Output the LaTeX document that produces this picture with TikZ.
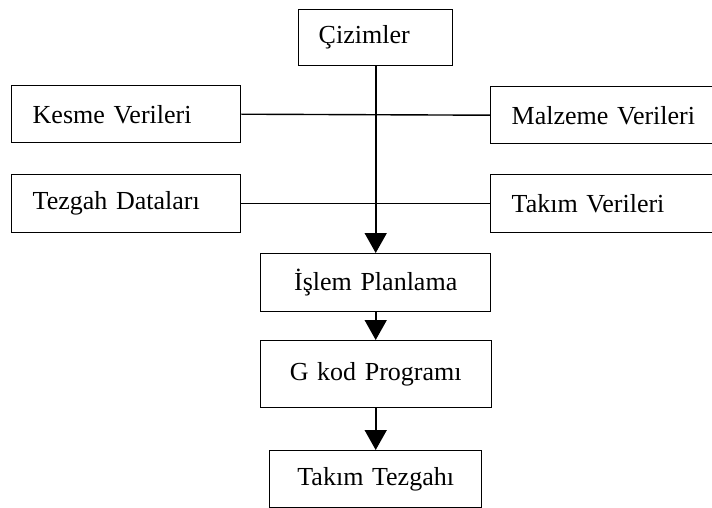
\documentclass[tikz,border=0pt]{standalone}
\usepackage{fontspec}
\setmainfont{Liberation Serif}
\usetikzlibrary{arrows.meta}
\begin{document}
\begin{tikzpicture}[x=1pt,y=-1pt,
  every node/.style={font=\fontsize{26}{31}\selectfont},
  box/.style={draw, line width=1.4pt, rectangle, inner ysep=0pt, anchor=north west},
  leftbox/.style={box, align=left, inner xsep=21pt},
  midbox/.style={box, align=center, inner xsep=0pt},
  link/.style={line width=1.4pt},
  flow/.style={line width=1.7pt, -{Triangle[length=20pt,width=22pt]}}]
\useasboundingbox (0,0) rectangle (712,508);
% source boxes
\node[leftbox, text width=114pt, minimum height=56pt, inner xsep=20pt] (cizim) at (298,9) {Çizimler};
\node[leftbox, text width=187pt, minimum height=57pt] (kesme) at (11,85) {Kesme Verileri};
\node[leftbox, text width=187pt, minimum height=58pt] (tezgah) at (11,174) {Tezgah Dataları};
\node[leftbox, text width=184pt, minimum height=57pt] (malz) at (490,86) {Malzeme Verileri};
\node[leftbox, text width=184pt, minimum height=58pt] (takimv) at (490,174) {Takım Verileri};
% process chain
\node[midbox, text width=230pt, minimum height=58pt] (islem) at (260,253) {İşlem Planlama};
\node[midbox, text width=231pt, minimum height=67pt] (gkod) at (259.5,340) {G kod Programı};
\node[midbox, text width=212pt, minimum height=57pt] (tezgahi) at (269,450) {Takım Tezgahı};
% connectors
\draw[link] (kesme.east) -- (malz.west);
\draw[link] (tezgah.east) -- (takimv.west);
\draw[flow] (cizim.south) -- (cizim.south |- islem.north);
\draw[flow] (islem.south) -- (islem.south |- gkod.north);
\draw[flow] (gkod.south) -- (gkod.south |- tezgahi.north);
\end{tikzpicture}
\end{document}
